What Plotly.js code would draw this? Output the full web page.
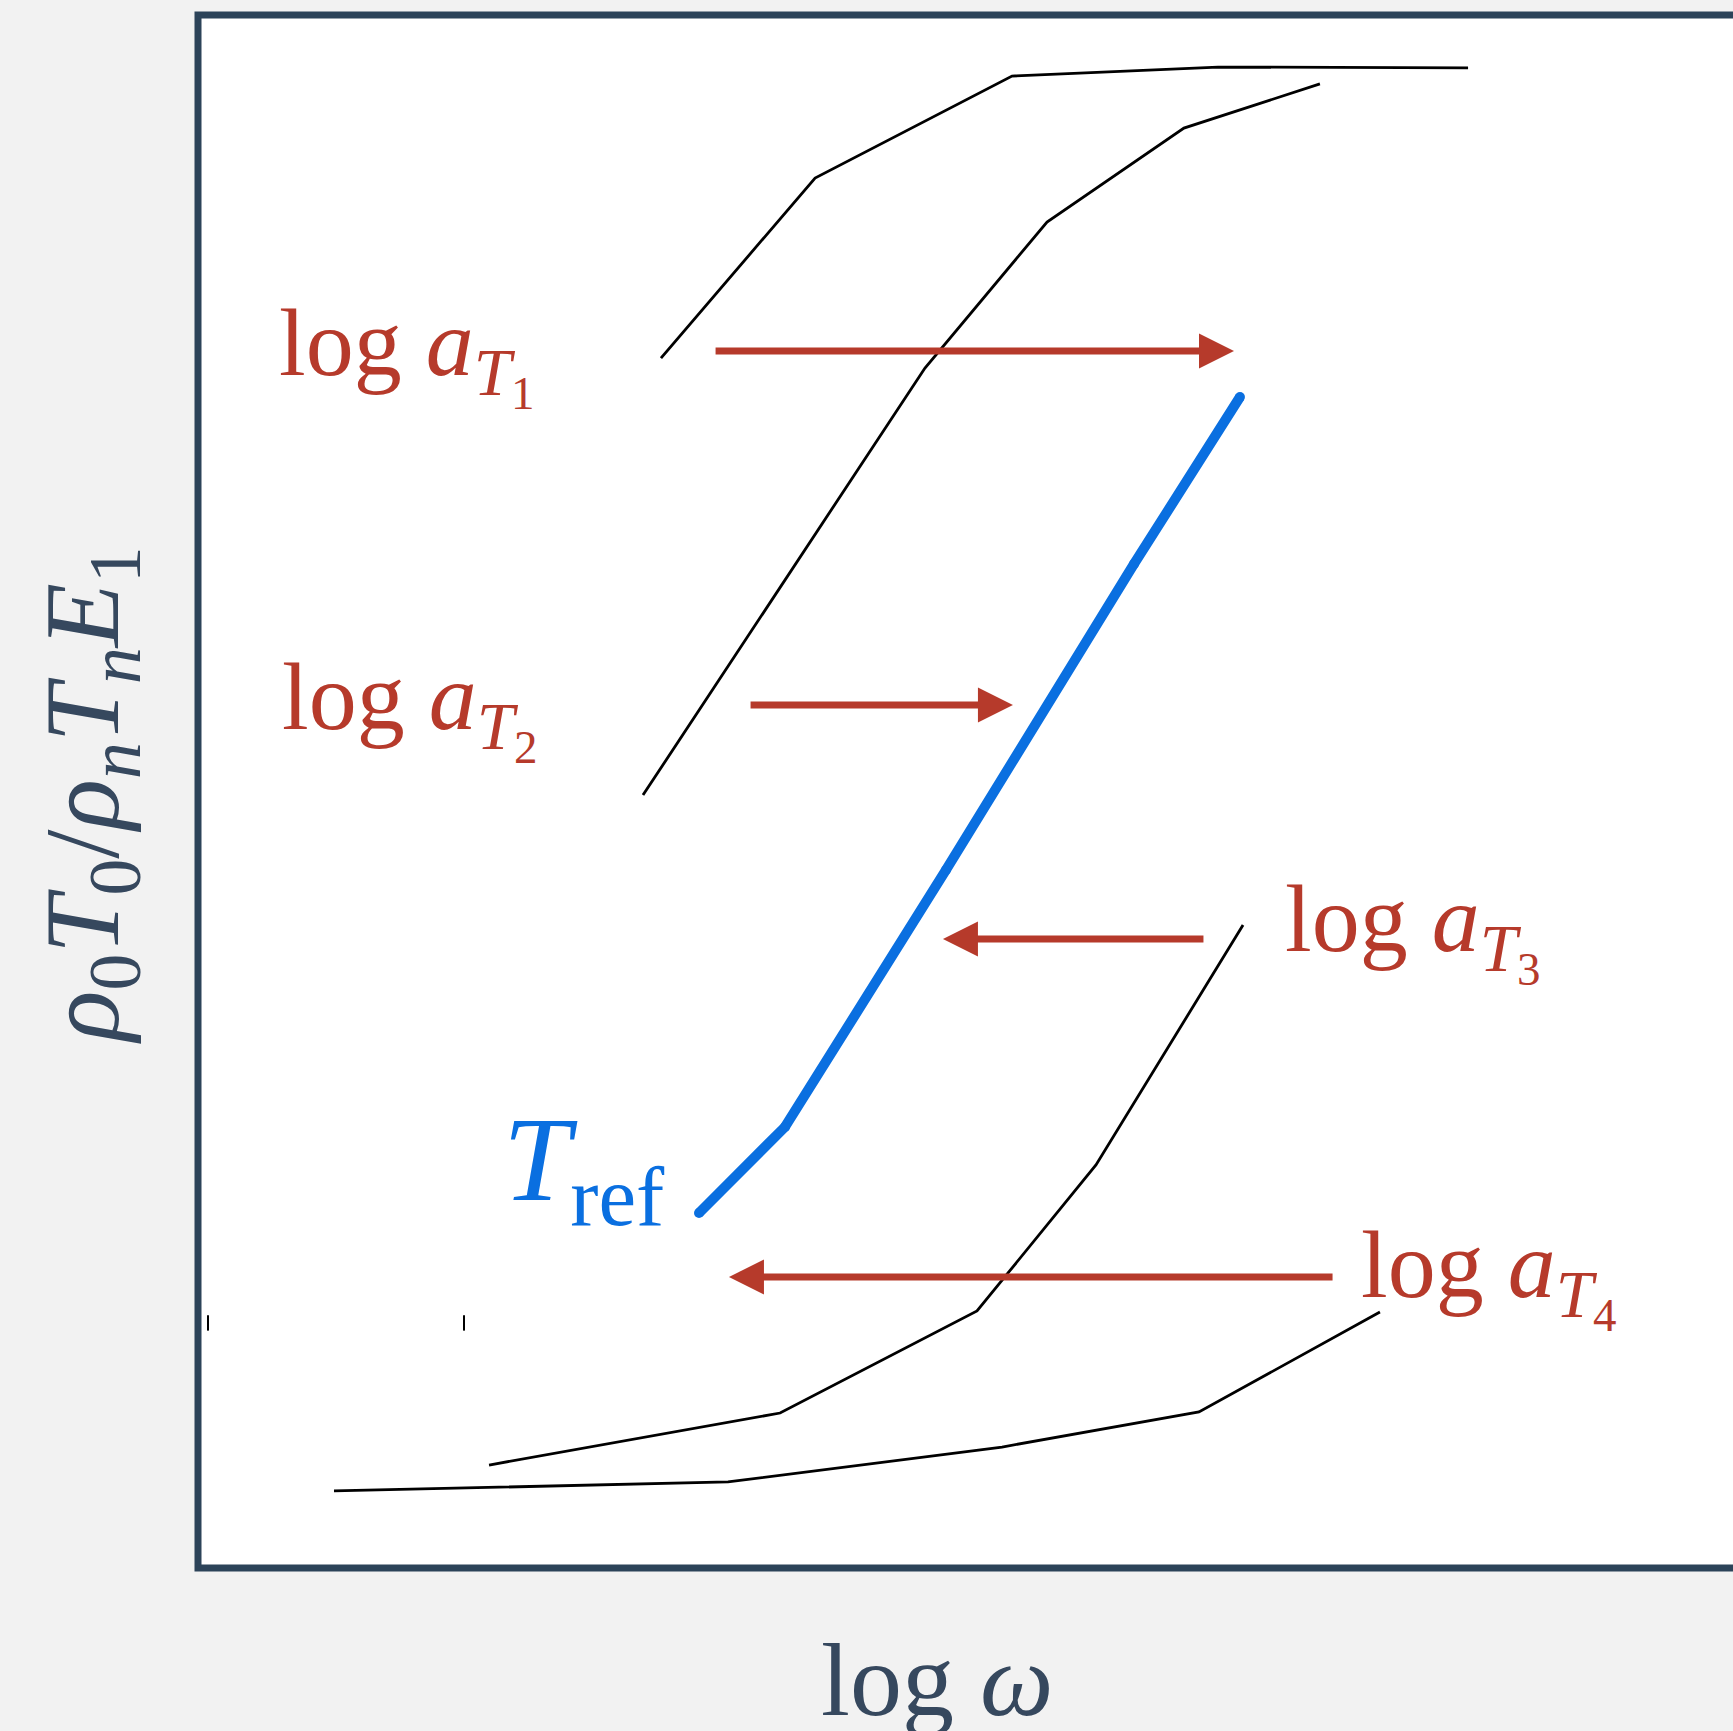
<!DOCTYPE html>
<html><head><meta charset="utf-8">
<script src="https://cdn.plot.ly/plotly-3.0.1.min.js"></script>
<style>html,body{margin:0;padding:0;background:#f2f2f2;overflow:hidden}</style>
</head><body><div id="chart" style="width:1733px;height:1731px"></div>
<script>
// Master curves: reduced modulus vs log frequency at four temperatures and the reference temperature
const curveT1X = [3.016, 4.020, 5.303, 6.645, 8.274];
const curveT1Y = [7.791, 8.950, 9.607, 9.665, 9.659];
const curveT2X = [2.899, 4.736, 5.531, 6.423, 7.309];
const curveT2Y = [4.977, 7.727, 8.667, 9.272, 9.556];
const curveRefX = [3.264, 3.824, 4.873, 6.098, 6.788];
const curveRefY = [2.286, 2.840, 4.495, 6.465, 7.540];
const curveT3X = [1.896, 3.792, 5.075, 5.850, 6.808];
const curveT3Y = [0.663, 0.998, 1.655, 2.595, 4.140];
const curveT4X = [0.886, 3.453, 5.238, 6.521, 7.700];
const curveT4Y = [0.496, 0.554, 0.779, 1.005, 1.648];

// Shift arrows (log a_T)
const arrowTailX = [3.362, 3.590, 6.560, 7.401];
const arrowTipX  = [6.749, 5.309, 4.853, 3.459];
const arrowY     = [7.836, 5.557, 4.050, 1.874];
const arrowLabels = [
  'log <i>a</i><sub><i>T</i><sub>1</sub></sub>',
  'log <i>a</i><sub><i>T</i><sub>2</sub></sub>',
  'log <i>a</i><sub><i>T</i><sub>3</sub></sub>',
  'log <i>a</i><sub><i>T</i><sub>4</sub></sub>'
];
const labelX = [0.516, 0.536, 7.070, 7.564];
const labelY = [7.820, 5.535, 4.105, 1.880];

const refLabel = '<i>T</i><sub>ref</sub>';
const tickMarksX = [0.065, 1.733];
const tickMarksY = [1.578, 1.578];

const RED = '#b63a2b', BLUE = '#0a6fe0', INK = '#36485e', FRAME = '#2c4359';
const serif = 'Liberation Serif, Times New Roman, serif';

const blackLine = {color: '#000000', width: 2.8};
const traces = [
  {x: curveT1X, y: curveT1Y, mode: 'lines', line: blackLine},
  {x: curveT2X, y: curveT2Y, mode: 'lines', line: blackLine},
  {x: curveT3X, y: curveT3Y, mode: 'lines', line: blackLine},
  {x: curveT4X, y: curveT4Y, mode: 'lines', line: blackLine},
  {x: curveRefX, y: curveRefY, mode: 'lines+markers', line: {color: BLUE, width: 10},
   marker: {color: BLUE, size: 10}},
  {x: tickMarksX, y: tickMarksY, mode: 'markers',
   marker: {symbol: 'line-ns', size: 11, line: {width: 2, color: '#000000'}}}
];

const annotations = [];
for (let i = 0; i < arrowTipX.length; i++) {
  annotations.push({
    x: arrowTipX[i], y: arrowY[i], ax: arrowTailX[i], ay: arrowY[i],
    xref: 'x', yref: 'y', axref: 'x', ayref: 'y',
    text: '', showarrow: true, arrowhead: 2, arrowsize: 1, arrowwidth: 7,
    arrowcolor: RED
  });
  annotations.push({
    x: labelX[i], y: labelY[i], xref: 'x', yref: 'y', xanchor: 'left', yanchor: 'middle',
    text: arrowLabels[i], showarrow: false, font: {family: serif, size: 96, color: RED}
  });
}
annotations.push({
  x: 1.973, y: 2.580, xref: 'x', yref: 'y', xanchor: 'left', yanchor: 'middle',
  text: refLabel, showarrow: false, font: {family: serif, size: 121, color: BLUE}
});
annotations.push({
  x: 0.4814, y: -0.0715, xref: 'paper', yref: 'paper', xanchor: 'center', yanchor: 'middle',
  text: 'log <i>ω</i>', showarrow: false, font: {family: serif, size: 104, color: INK}
});
annotations.push({
  x: -0.0704, y: 0.4977, xref: 'paper', yref: 'paper', xanchor: 'center', yanchor: 'middle',
  textangle: -90,
  text: '<i>ρ</i><sub>0</sub><i>T</i><sub>0</sub>/<i>ρ</i><sub><i>n</i></sub><i>T</i><sub><i>n</i></sub><i>E</i><sub>1</sub>',
  showarrow: false, font: {family: serif, size: 105, color: INK}
});

const layout = {
  width: 1733, height: 1731,
  margin: {l: 198, r: 0, t: 15, b: 163},
  paper_bgcolor: '#f2f2f2', plot_bgcolor: '#ffffff',
  showlegend: false,
  xaxis: {range: [0, 10], visible: false, fixedrange: true},
  yaxis: {range: [0, 10], visible: false, fixedrange: true},
  shapes: [{type: 'rect', xref: 'paper', yref: 'paper', x0: 0, x1: 1.05, y0: 0, y1: 1,
            line: {color: FRAME, width: 7}, layer: 'above'}],
  annotations: annotations
};

Plotly.newPlot('chart', traces, layout, {displayModeBar: false, staticPlot: true});
</script>
</body></html>
